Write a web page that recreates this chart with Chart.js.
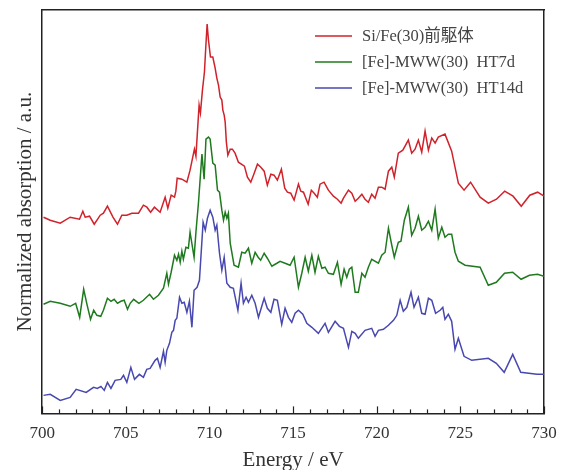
<!DOCTYPE html>
<html lang="ja">
<head>
    <meta charset="UTF-8">
    <title>Fe L-edge XAS</title>
    <script src="https://cdn.jsdelivr.net/npm/chart.js"></script>
    <style>
        body {
            margin: 0;
            padding: 0;
            background: #fff;
        }
        #grafico {
            display: block;
        }
    </style>
</head>
<body>
    <canvas id="grafico" width="568" height="470"></canvas>

    <script>
        // etiquetas de las curvas
        const etiquetas = ["Si/Fe(30)前駆体", "[Fe]-MWW(30)  HT7d", "[Fe]-MWW(30)  HT14d"];
        const colores = ["#d0222b", "#1f7a1f", "#4848b0"];
        const ticksX = [700, 705, 710, 715, 720, 725, 730];

        // Si/Fe(30) precursor
        const energiaRojo = [700.08,700.48,701.08,701.67,702.23,702.43,702.57,702.83,703.11,703.47,703.66,703.90,704.23,704.50,704.76,705.06,705.36,705.76,706.05,706.26,706.48,706.71,707.05,707.35,707.51,707.71,707.91,707.99,708.07,708.35,708.65,708.84,709.10,709.19,709.38,709.46,709.58,709.70,709.78,709.86,709.94,710.06,710.20,710.34,710.44,710.54,710.64,710.74,710.80,710.88,710.94,711.01,711.10,711.24,711.37,711.53,711.73,712.09,712.27,712.47,712.63,712.87,713.07,713.27,713.46,713.67,713.86,714.06,714.30,714.50,714.66,714.86,715.06,715.32,715.46,715.62,715.90,716.09,716.26,716.45,716.61,716.85,717.11,717.41,717.65,717.87,718.01,718.31,718.51,718.71,718.90,719.11,719.30,719.50,719.70,719.90,720.10,720.30,720.50,720.70,720.90,721.05,721.29,721.56,721.89,722.09,722.29,722.49,722.69,722.89,723.09,723.29,723.49,723.68,724.08,724.48,724.88,725.22,725.61,726.18,726.67,727.16,727.65,728.15,728.64,729.15,729.62,730.00];
        const absRojo = [1.96,1.93,1.90,1.96,1.94,2.02,1.96,1.97,1.89,1.98,2.00,2.07,1.96,1.89,1.98,1.98,2.00,2.00,2.08,2.06,2.01,2.06,2.01,2.16,2.05,2.18,2.16,2.22,2.35,2.34,2.31,2.43,2.64,2.57,3.08,3.00,3.23,3.41,3.66,3.89,3.73,3.56,3.56,3.45,3.35,3.28,3.16,3.13,3.03,2.98,2.91,2.71,2.58,2.64,2.64,2.60,2.51,2.47,2.36,2.31,2.38,2.49,2.46,2.42,2.28,2.39,2.38,2.33,2.44,2.25,2.21,2.20,2.13,2.29,2.22,2.21,2.09,2.23,2.20,2.16,2.29,2.31,2.23,2.17,2.14,2.10,2.15,2.23,2.20,2.12,2.15,2.19,2.14,2.11,2.19,2.15,2.26,2.26,2.24,2.42,2.46,2.36,2.60,2.63,2.73,2.60,2.64,2.73,2.61,2.82,2.63,2.75,2.70,2.76,2.79,2.62,2.30,2.23,2.31,2.16,2.10,2.14,2.22,2.17,2.07,2.18,2.21,2.17];

        // [Fe]-MWW(30) HT7d
        const energiaVerde = [700.08,700.48,701.08,701.67,702.00,702.24,702.48,702.69,702.89,703.08,703.27,703.50,703.66,703.90,704.11,704.30,704.50,704.70,704.90,705.10,705.26,705.47,705.78,706.05,706.42,706.65,706.95,707.25,707.45,707.55,707.71,707.91,708.05,708.15,708.25,708.35,708.44,708.59,708.74,708.84,709.08,709.20,709.34,709.55,709.68,709.79,709.94,710.04,710.20,710.34,710.48,710.60,710.74,710.84,710.94,711.04,711.13,711.24,711.47,711.73,711.93,712.13,712.33,712.53,712.73,712.91,713.06,713.27,713.46,713.73,714.03,714.22,714.52,714.82,715.06,715.32,715.52,715.72,715.91,716.12,716.31,716.51,716.72,716.91,717.11,717.41,717.65,717.87,718.05,718.21,718.36,718.51,718.71,718.90,719.11,719.30,719.50,719.70,720.10,720.30,720.50,720.70,720.90,721.05,721.29,721.45,721.65,721.89,722.09,722.29,722.49,722.69,722.89,723.09,723.29,723.49,723.68,723.89,724.08,724.28,724.48,724.68,724.88,725.28,726.18,726.67,727.15,727.64,728.13,728.63,729.13,729.61,730.00];
        const absVerde = [1.09,1.12,1.10,1.07,1.10,0.96,1.24,1.08,0.94,1.03,0.98,0.97,1.03,1.15,1.12,1.14,1.10,1.12,1.13,1.04,1.10,1.14,1.10,1.13,1.19,1.14,1.18,1.25,1.40,1.29,1.41,1.58,1.53,1.59,1.51,1.62,1.54,1.66,1.65,1.81,1.56,1.83,2.10,2.59,2.34,2.74,2.76,2.74,2.50,2.48,2.23,2.21,2.03,1.93,2.01,1.95,2.00,1.70,1.48,1.46,1.61,1.60,1.65,1.50,1.61,1.56,1.53,1.60,1.55,1.47,1.50,1.52,1.50,1.48,1.56,1.26,1.40,1.56,1.42,1.58,1.41,1.57,1.45,1.46,1.40,1.39,1.51,1.29,1.44,1.36,1.44,1.46,1.21,1.21,1.40,1.36,1.46,1.54,1.50,1.58,1.61,1.85,1.68,1.56,1.71,1.72,1.93,2.06,1.78,1.85,1.97,1.83,1.86,1.92,1.83,2.04,1.75,1.86,1.76,1.79,1.79,1.61,1.52,1.48,1.46,1.28,1.31,1.40,1.41,1.34,1.38,1.39,1.37];

        // [Fe]-MWW(30) HT14d
        const energiaAzul = [700.08,700.48,701.08,701.67,702.03,702.63,703.07,703.30,703.51,703.71,703.90,704.11,704.36,704.70,704.86,705.06,705.30,705.52,705.81,706.05,706.25,706.45,706.75,706.89,707.05,707.25,707.35,707.45,707.61,707.75,707.85,707.95,708.05,708.21,708.35,708.49,708.65,708.80,708.95,709.08,709.26,709.40,709.62,709.75,709.88,710.04,710.20,710.34,710.44,710.60,710.74,710.88,711.04,711.24,711.43,711.70,711.89,712.03,712.19,712.33,712.53,712.73,712.93,713.27,713.46,713.67,713.86,714.06,714.32,714.52,714.72,714.92,715.12,715.32,715.58,715.82,716.12,716.51,716.91,717.11,717.51,717.77,718.01,718.31,718.51,718.71,718.90,719.30,719.70,719.90,720.10,720.40,720.70,721.00,721.20,721.40,721.59,721.80,722.05,722.23,722.49,722.69,722.89,723.09,723.29,723.52,723.79,723.95,724.08,724.28,724.48,724.68,724.88,725.22,725.68,726.67,727.15,727.62,728.13,728.61,729.58,730.00];
        const absAzul = [0.18,0.19,0.13,0.16,0.24,0.21,0.26,0.25,0.27,0.23,0.31,0.25,0.33,0.34,0.38,0.31,0.46,0.34,0.39,0.36,0.44,0.45,0.53,0.55,0.46,0.62,0.51,0.63,0.70,0.81,0.83,0.93,0.95,1.16,1.10,1.11,1.01,1.12,0.86,1.23,1.26,1.33,1.91,1.83,1.95,2.03,1.96,1.83,1.88,1.60,1.43,1.56,1.30,1.26,1.25,1.03,1.30,1.10,1.16,1.11,1.18,1.10,0.96,1.15,1.05,1.01,1.14,1.13,0.89,1.05,0.96,0.91,1.00,1.03,0.99,0.90,0.86,0.80,0.90,0.81,0.92,0.87,0.85,0.66,0.82,0.80,0.75,0.83,0.85,0.77,0.83,0.84,0.88,0.93,0.98,1.13,1.02,1.06,1.21,1.06,1.16,1.00,0.99,1.15,1.13,1.00,1.03,1.06,0.94,0.99,0.92,0.64,0.75,0.57,0.53,0.55,0.50,0.41,0.59,0.41,0.39,0.39];

        const fuenteSerif = '"Liberation Serif", "Times New Roman", serif';

        function armarSerie(energia, abs) {
            return energia.map((e, i) => ({ x: e, y: abs[i] }));
        }

        // marcas hacia adentro en el eje X (cada 1 eV, mayores cada 5)
        const marcasInternas = {
            id: "marcasInternas",
            afterDraw(chart) {
                const ctx = chart.ctx;
                const escala = chart.scales.x;
                const abajo = chart.chartArea.bottom;
                ctx.save();
                ctx.strokeStyle = "#222";
                ctx.lineWidth = 1.2;
                for (let v = escala.min; v <= escala.max; v++) {
                    const px = Math.round(escala.getPixelForValue(v)) + 0.5;
                    const largo = (v % 5 === 0) ? 7 : 4;
                    ctx.beginPath();
                    ctx.moveTo(px, abajo);
                    ctx.lineTo(px, abajo - largo);
                    ctx.stroke();
                }
                ctx.restore();
            }
        };

        // leyenda dentro del área del gráfico, arriba a la derecha
        const leyendaInterna = {
            id: "leyendaInterna",
            afterDraw(chart) {
                const ctx = chart.ctx;
                const area = chart.chartArea;
                ctx.save();
                ctx.font = '16.5px "Liberation Serif", "Noto Sans CJK JP", serif';
                ctx.textBaseline = "middle";
                chart.data.datasets.forEach((ds, i) => {
                    const y = area.top + 26 + i * 26;
                    const x0 = area.right - 229;
                    ctx.strokeStyle = ds.borderColor;
                    ctx.lineWidth = 1.5;
                    ctx.beginPath();
                    ctx.moveTo(x0, y);
                    ctx.lineTo(x0 + 37, y);
                    ctx.stroke();
                    ctx.fillStyle = "#444";
                    ctx.fillText(ds.label, x0 + 47, y + 1);
                });
                ctx.restore();
            }
        };

        const series = [
            armarSerie(energiaRojo, absRojo),
            armarSerie(energiaVerde, absVerde),
            armarSerie(energiaAzul, absAzul)
        ];

        const datasets = series.map((datos, i) => ({
            label: etiquetas[i],
            data: datos,
            borderColor: colores[i],
            borderWidth: 1.5,
            pointRadius: 0,
            tension: 0,
            fill: false
        }));

        const bordeSolo = {
            display: true,
            grid: { display: false, drawTicks: false },
            ticks: { display: false },
            border: { display: true, color: "#222", width: 1.5 }
        };

        const ctx = document.getElementById("grafico").getContext("2d");
        window.miGrafico = new Chart(ctx, {
            type: "line",
            data: { datasets: datasets },
            plugins: [marcasInternas, leyendaInterna],
            options: {
                responsive: false,
                animation: false,
                devicePixelRatio: 1,
                layout: { padding: { left: 9, right: 24, top: 10, bottom: 0 } },
                plugins: {
                    legend: { display: false },
                    tooltip: { enabled: false }
                },
                scales: {
                    x: {
                        type: "linear",
                        min: 700,
                        max: 730,
                        afterBuildTicks: (escala) => {
                            escala.ticks = ticksX.map(v => ({ value: v }));
                        },
                        grid: { display: false, drawTicks: false },
                        border: { display: true, color: "#222", width: 1.5 },
                        ticks: {
                            padding: 10,
                            color: "#333",
                            font: { family: fuenteSerif, size: 17 },
                            maxRotation: 0
                        },
                        title: {
                            display: true,
                            text: "Energy / eV",
                            color: "#333",
                            font: { family: fuenteSerif, size: 21 },
                            padding: { top: -6, bottom: -3 }
                        }
                    },
                    y: {
                        min: 0,
                        max: 4.03,
                        grid: { display: false, drawTicks: false },
                        border: { display: true, color: "#222", width: 1.5 },
                        ticks: { display: false },
                        title: {
                            display: true,
                            text: "Normalized absorption / a.u.",
                            color: "#333",
                            font: { family: fuenteSerif, size: 21 },
                            padding: { top: 4, bottom: 4 }
                        }
                    },
                    xArriba: Object.assign({ type: "linear", position: "top" }, bordeSolo),
                    yDerecha: Object.assign({ type: "linear", position: "right" }, bordeSolo)
                }
            }
        });
    </script>
</body>
</html>
